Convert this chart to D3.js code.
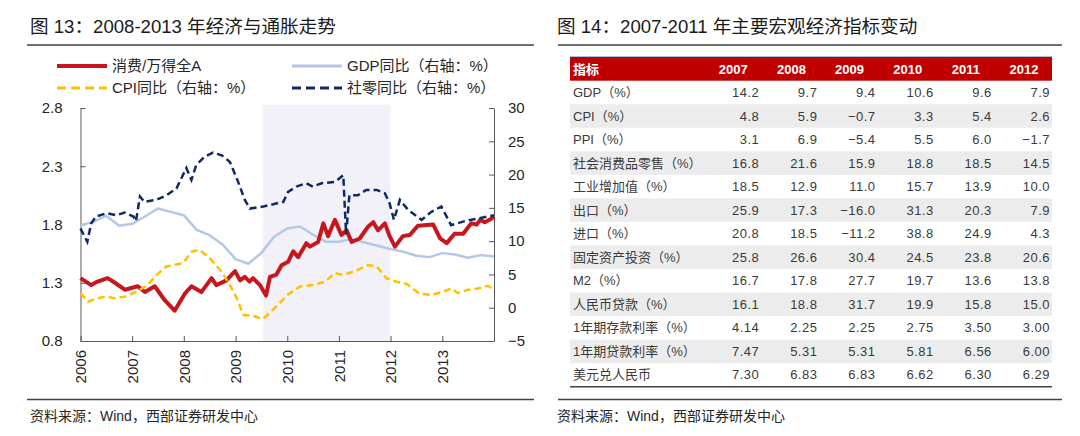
<!DOCTYPE html>
<html><head><meta charset="utf-8">
<script src="https://cdn.jsdelivr.net/npm/d3@7"></script>
<style>
body{margin:0;background:#fff;}
svg text{font-family:"Liberation Sans","Noto Sans CJK SC",sans-serif;}
</style></head><body>
<svg id="c" width="1080" height="436"></svg>
<script>
// ---------------- data ----------------
const yearTicks = ["2006","2007","2008","2009","2010","2011","2012","2013"];
const leftTicks = [0.8, 1.3, 1.8, 2.3, 2.8];
const rightTicks = [-5, 0, 5, 10, 15, 20, 25, 30];
const shadeRange = ["2009-07-12", "2012-01-01"];

const ratioDates = ["2006-01-01","2006-03-18","2006-05-01","2006-07-12","2006-09-01","2006-11-10","2007-02-10","2007-04-01","2007-06-10","2007-08-19","2007-10-28","2008-01-10","2008-02-24","2008-05-04","2008-07-15","2008-08-18","2008-10-28","2008-12-28","2009-02-01","2009-03-07","2009-04-10","2009-05-04","2009-06-22","2009-08-04","2009-09-01","2009-10-16","2009-11-22","2010-01-07","2010-02-12","2010-03-19","2010-05-16","2010-06-10","2010-08-07","2010-09-13","2010-10-16","2010-12-04","2011-01-19","2011-02-24","2011-04-01","2011-05-28","2011-07-25","2011-09-01","2011-10-04","2011-11-22","2011-12-25","2012-02-01","2012-03-28","2012-05-16","2012-07-13","2012-10-28","2012-12-16","2013-02-01","2013-03-28","2013-05-28","2013-07-25","2013-09-01","2013-09-25","2013-10-28","2013-12-13","2014-01-01"];
const ratioValues = [1.34,1.28,1.31,1.34,1.30,1.24,1.27,1.22,1.27,1.15,1.06,1.21,1.27,1.22,1.34,1.28,1.32,1.40,1.32,1.35,1.31,1.34,1.28,1.19,1.35,1.37,1.45,1.48,1.57,1.52,1.64,1.61,1.65,1.81,1.70,1.84,1.71,1.75,1.65,1.68,1.78,1.82,1.75,1.81,1.70,1.61,1.70,1.71,1.79,1.80,1.68,1.64,1.72,1.72,1.81,1.80,1.84,1.82,1.85,1.87];

const gdpDates = ["2006-01-01","2006-04-01","2006-07-01","2006-10-01","2007-01-01","2007-04-01","2007-07-01","2007-10-01","2008-01-01","2008-04-01","2008-07-01","2008-10-01","2009-01-01","2009-04-01","2009-07-01","2009-10-01","2010-01-01","2010-04-01","2010-07-01","2010-10-01","2011-01-01","2011-04-01","2011-07-01","2011-10-01","2012-01-01","2012-04-01","2012-07-01","2012-10-01","2013-01-01","2013-04-01","2013-07-01","2013-10-01","2013-12-31"];
const gdpValues = [12.4,12.9,13.8,12.3,12.6,13.7,14.9,14.4,13.9,11.7,10.9,9.5,7.3,6.6,8.2,10.7,11.9,12.2,11.0,9.9,9.9,10.3,9.8,9.3,8.8,8.4,7.8,7.6,8.2,8.0,7.5,7.9,7.7];

const cpiDates = ["2006-01-01","2006-02-24","2006-04-12","2006-07-04","2006-09-01","2006-11-20","2007-01-31","2007-04-20","2007-06-21","2007-09-01","2007-12-28","2008-02-24","2008-04-21","2008-07-04","2008-09-25","2008-11-22","2009-01-10","2009-02-25","2009-05-01","2009-07-12","2009-08-30","2009-10-16","2010-01-07","2010-04-01","2010-07-01","2010-09-25","2010-12-04","2011-02-01","2011-04-10","2011-05-16","2011-07-25","2011-09-25","2011-12-04","2012-02-12","2012-04-21","2012-07-25","2012-10-16","2013-01-06","2013-03-06","2013-04-21","2013-07-01","2013-09-10","2013-11-21","2014-01-01"];
const cpiValues = [2.2,0.9,1.3,1.7,1.4,1.7,2.4,3.4,4.9,6.2,6.7,8.4,8.7,7.4,5.4,3.4,1.4,-1.1,-1.2,-1.7,-0.8,0.2,2.0,3.2,3.4,3.9,5.2,4.9,5.4,5.7,6.4,6.2,4.4,3.9,3.6,2.1,1.9,2.4,2.9,2.2,2.7,2.9,3.3,2.7];

const retailDates = ["2006-01-01","2006-02-18","2006-03-18","2006-04-21","2006-07-04","2006-09-12","2006-11-10","2007-01-10","2007-01-28","2007-02-25","2007-03-28","2007-06-21","2007-09-01","2007-11-10","2008-01-19","2008-02-24","2008-03-28","2008-05-28","2008-07-25","2008-09-25","2008-11-22","2009-01-19","2009-03-07","2009-04-12","2009-07-16","2009-12-04","2010-01-07","2010-03-07","2010-05-16","2010-07-01","2010-09-01","2010-12-04","2011-02-01","2011-02-21","2011-03-16","2011-05-16","2011-07-13","2011-09-25","2011-11-22","2011-12-25","2012-01-25","2012-03-07","2012-05-04","2012-08-07","2012-10-16","2012-12-25","2013-03-04","2013-06-07","2013-09-10","2013-12-13","2014-01-01"];
const retailValues = [11.9,9.9,12.7,13.7,14.2,13.9,14.3,13.7,13.0,16.7,15.9,16.2,16.9,17.9,21.0,19.2,21.4,22.7,23.3,22.9,21.9,18.9,16.2,14.9,15.2,15.9,17.4,18.2,18.7,18.2,18.7,18.9,19.9,11.0,16.9,16.9,17.7,17.7,17.2,15.7,13.2,16.2,14.7,13.2,14.4,15.2,12.4,13.0,13.4,13.8,13.9];

const legendLabels = ["消费/万得全A","GDP同比（右轴：%）","CPI同比（右轴：%）","社零同比（右轴：%）"];

const tableHeader = ["指标","2007","2008","2009","2010","2011","2012"];
const tableRowLabels = ["GDP（%）","CPI（%）","PPI（%）","社会消费品零售（%）","工业增加值（%）","出口（%）","进口（%）","固定资产投资（%）","M2（%）","人民币贷款（%）","1年期存款利率（%）","1年期贷款利率（%）","美元兑人民币"];
const tableValues = [
  ["14.2","9.7","9.4","10.6","9.6","7.9"],
  ["4.8","5.9","−0.7","3.3","5.4","2.6"],
  ["3.1","6.9","−5.4","5.5","6.0","−1.7"],
  ["16.8","21.6","15.9","18.8","18.5","14.5"],
  ["18.5","12.9","11.0","15.7","13.9","10.0"],
  ["25.9","17.3","−16.0","31.3","20.3","7.9"],
  ["20.8","18.5","−11.2","38.8","24.9","4.3"],
  ["25.8","26.6","30.4","24.5","23.8","20.6"],
  ["16.7","17.8","27.7","19.7","13.6","13.8"],
  ["16.1","18.8","31.7","19.9","15.8","15.0"],
  ["4.14","2.25","2.25","2.75","3.50","3.00"],
  ["7.47","5.31","5.31","5.81","6.56","6.00"],
  ["7.30","6.83","6.83","6.62","6.30","6.29"]
];

const title1 = "图 13：2008-2013 年经济与通胀走势";
const title2 = "图 14：2007-2011 年主要宏观经济指标变动";
const sourceText = "资料来源：Wind，西部证券研发中心";

// ---------------- drawing ----------------
const svg = d3.select("#c");
const parse = d3.timeParse("%Y-%m-%d");
const textColor = "#262626";

// titles and frame lines
svg.append("text").attr("x", 30).attr("y", 33).attr("font-size", 18.6).attr("fill", "#1a1a1a").text(title1);
svg.append("text").attr("x", 557).attr("y", 33).attr("font-size", 18.6).attr("fill", "#1a1a1a").text(title2);
[[27, 534], [558, 1062]].forEach(([a, b]) => {
  svg.append("line").attr("x1", a).attr("x2", b).attr("y1", 45).attr("y2", 45).attr("stroke", "#404040").attr("stroke-width", 1.5);
  svg.append("line").attr("x1", a).attr("x2", b).attr("y1", 399.5).attr("y2", 399.5).attr("stroke", "#404040").attr("stroke-width", 1.5);
});
svg.append("text").attr("x", 30).attr("y", 421).attr("font-size", 14).attr("fill", textColor).text(sourceText);
svg.append("text").attr("x", 557).attr("y", 421).attr("font-size", 14).attr("fill", textColor).text(sourceText);

// ---- left chart ----
const x = d3.scaleTime().domain([parse("2006-01-01"), parse("2014-01-01")]).range([80.5, 494]);
const yL = d3.scaleLinear().domain([0.8, 2.8]).range([341, 108]);
const yR = d3.scaleLinear().domain([-5, 30]).range([341, 108]);

svg.append("rect")
  .attr("x", x(parse(shadeRange[0]))).attr("width", x(parse(shadeRange[1])) - x(parse(shadeRange[0])))
  .attr("y", yR(30.5)).attr("height", yR(-5) - yR(30.5))
  .attr("fill", "#f3f1f8");

const axisColor = "#595959";
function styleAxis(g) {
  g.select(".domain").attr("stroke", axisColor).attr("stroke-width", 1);
  g.selectAll(".tick line").attr("stroke", axisColor);
  g.selectAll(".tick text").attr("fill", textColor).attr("font-size", 15)
    .attr("font-family", "Liberation Sans, Arial, sans-serif");
}
const gL = svg.append("g").attr("transform", "translate(80.5,0)")
  .call(d3.axisLeft(yL).tickValues(leftTicks).tickFormat(d3.format(".1f")).tickSizeInner(-5).tickSizeOuter(0).tickPadding(18));
styleAxis(gL);
const gR = svg.append("g").attr("transform", "translate(494,0)")
  .call(d3.axisRight(yR).tickValues(rightTicks).tickFormat(d3.format("d")).tickSizeInner(-5).tickSizeOuter(0).tickPadding(14));
styleAxis(gR);
const gX = svg.append("g").attr("transform", "translate(0,341)")
  .call(d3.axisBottom(x).tickValues(yearTicks.map(y => parse(y + "-01-01"))).tickFormat(d3.timeFormat("%Y")).tickSizeInner(-5).tickSizeOuter(0));
styleAxis(gX);
gX.selectAll(".tick text").attr("transform", "rotate(-90)").attr("x", -9).attr("y", 0).attr("dy", "0.35em").style("text-anchor", "end");

function series(dates, values, yScale) {
  return dates.map((d, i) => [x(parse(d)), yScale(values[i])]);
}
const line = d3.line();
const colRed = "#c8161e", colBlue = "#b4c7e7", colYellow = "#ffc000", colNavy = "#0f2a66";

svg.append("path").attr("d", line(series(gdpDates, gdpValues, yR)))
  .attr("fill", "none").attr("stroke", colBlue).attr("stroke-width", 2.5).attr("stroke-linejoin", "round");
svg.append("path").attr("d", line(series(ratioDates, ratioValues, yL)))
  .attr("fill", "none").attr("stroke", colRed).attr("stroke-width", 4).attr("stroke-linejoin", "round");
svg.append("path").attr("d", line(series(cpiDates, cpiValues, yR)))
  .attr("fill", "none").attr("stroke", colYellow).attr("stroke-width", 2.5).attr("stroke-dasharray", "7,4");
svg.append("path").attr("d", line(series(retailDates, retailValues, yR)))
  .attr("fill", "none").attr("stroke", colNavy).attr("stroke-width", 2.5).attr("stroke-dasharray", "7,4");

// legend
const legendItems = [
  {lx: 57, ly: 66, color: colRed, w: 4, dash: null},
  {lx: 292, ly: 66, color: colBlue, w: 3, dash: null},
  {lx: 57, ly: 88, color: colYellow, w: 3, dash: "9,5"},
  {lx: 292, ly: 88, color: colNavy, w: 3, dash: "9,5"}
];
legendItems.forEach((it, i) => {
  svg.append("line").attr("x1", it.lx).attr("x2", it.lx + 50).attr("y1", it.ly).attr("y2", it.ly)
    .attr("stroke", it.color).attr("stroke-width", it.w).attr("stroke-dasharray", it.dash);
  svg.append("text").attr("x", it.lx + 55).attr("y", it.ly).attr("dy", "0.35em")
    .attr("font-size", 15).attr("fill", textColor).text(legendLabels[i]);
});

// ---- right table ----
const tLeft = 570, tRight = 1052;
const rowY = d3.scaleBand().domain(tableRowLabels).range([80.7, 386.7]);
const colX = d3.scalePoint().domain(tableHeader.slice(1)).range([759.3, 1050]);

svg.append("rect").attr("x", tLeft).attr("y", 56.7).attr("width", tRight - tLeft).attr("height", 24).attr("fill", "#c00000");
svg.append("line").attr("x1", tLeft).attr("x2", tRight).attr("y1", 56.5).attr("y2", 56.5).attr("stroke", "#a9c0e0").attr("stroke-width", 1);
svg.append("text").attr("x", 573).attr("y", 69).attr("dy", "0.35em").attr("font-size", 13).attr("font-weight", "bold")
  .attr("fill", "#fff").attr("font-family", "Noto Sans CJK SC").text(tableHeader[0]);
tableHeader.slice(1).forEach(h => {
  svg.append("text").attr("x", colX(h) - 26).attr("y", 69).attr("dy", "0.35em").attr("text-anchor", "middle")
    .attr("font-size", 13).attr("font-weight", "bold").attr("fill", "#fff").text(h);
});

tableRowLabels.forEach((lab, i) => {
  const yy = rowY(lab);
  if (i % 2 === 1) {
    svg.append("rect").attr("x", tLeft).attr("y", yy).attr("width", tRight - tLeft).attr("height", rowY.bandwidth()).attr("fill", "#ececec");
  }
  const cy = yy + rowY.bandwidth() / 2;
  svg.append("text").attr("x", 573).attr("y", cy).attr("dy", "0.35em").attr("font-size", 13)
    .attr("fill", "#3a3a3a").attr("font-family", "Noto Sans CJK SC").text(lab);
  tableValues[i].forEach((v, j) => {
    svg.append("text").attr("x", colX(tableHeader[j + 1])).attr("y", cy).attr("dy", "0.35em")
      .attr("text-anchor", "end").attr("font-size", 13).attr("fill", "#3a3a3a")
      .attr("font-family", "Noto Sans CJK SC").style("letter-spacing", "0.5px").text(v);
  });
});
svg.append("line").attr("x1", tLeft).attr("x2", tRight).attr("y1", 386.7).attr("y2", 386.7).attr("stroke", "#404040").attr("stroke-width", 1.5);
</script>
</body></html>
